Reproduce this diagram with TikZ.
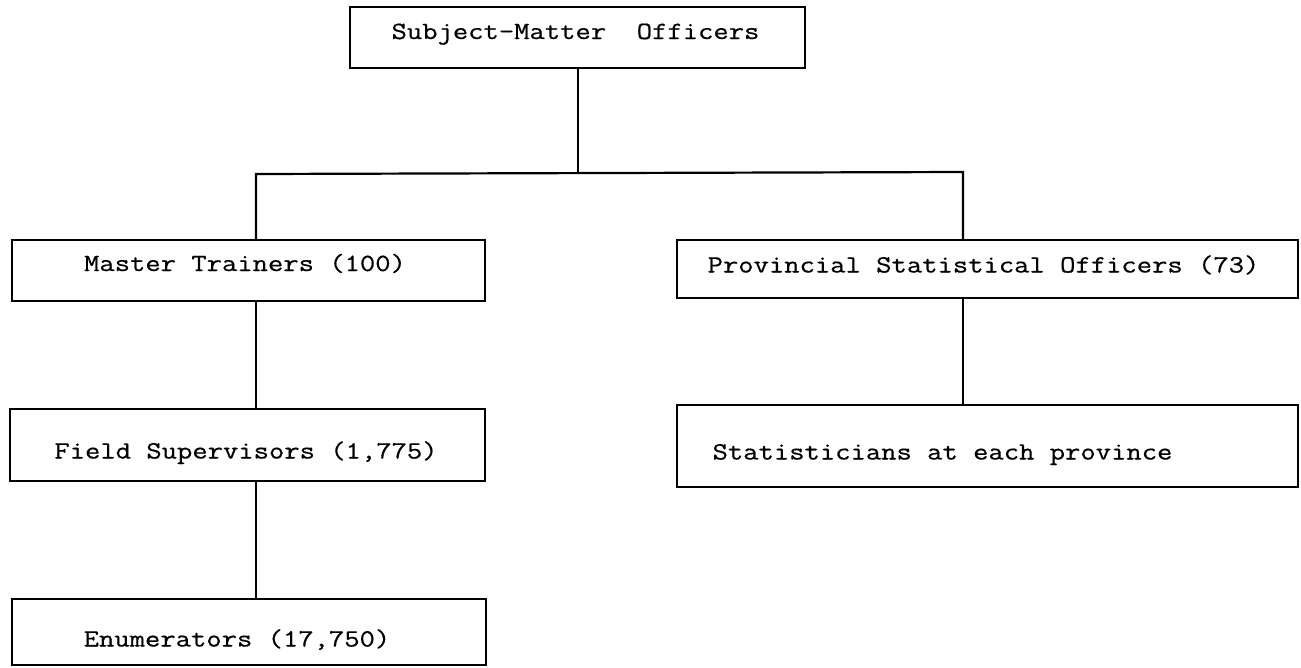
\documentclass[tikz,border=0pt]{standalone}
\usepackage{fontspec}
\setmonofont[FakeStretch=1.2, FakeBold=0.6]{Latin Modern Mono}
% place text inside a box: #1 = twice the horizontal shift, #2 = vertical shift
\newcommand{\inbox}[3]{\raisebox{#2}{\makebox[0pt]{\hspace*{#1}#3}}}
\begin{document}
\begin{tikzpicture}[x=1pt,y=-1pt,
  line width=2.2pt,
  orgbox/.style={draw, rectangle, anchor=north west, inner sep=0pt, outer sep=0pt,
    text height=15pt, text depth=0pt,
    font=\ttfamily\fontsize{24.8}{30}\selectfont},
  link/.style={draw, line width=2.2pt}]
\useasboundingbox (0,0) rectangle (1301,667);

% boxes
\node[orgbox, minimum width=455pt, minimum height=61pt] (top) at (350,7)
  {\inbox{-4pt}{6pt}{Subject-Matter\ \ Officers}};
\node[orgbox, minimum width=473pt, minimum height=61pt] (mt) at (12,240)
  {\inbox{-7pt}{7pt}{Master Trainers (100)}};
\node[orgbox, minimum width=621pt, minimum height=58pt] (prov) at (677,240)
  {\inbox{-8pt}{4pt}{Provincial Statistical Officers (73)}};
\node[orgbox, minimum width=475pt, minimum height=72pt] (fs) at (10,409)
  {\inbox{-3pt}{-6pt}{Field Supervisors (1,775)}};
\node[orgbox, minimum width=621pt, minimum height=82pt] (stat) at (677,405)
  {\inbox{-90pt}{-6pt}{Statisticians at each province}};
\node[orgbox, minimum width=474pt, minimum height=66pt] (en) at (12,599)
  {\inbox{-24pt}{-7pt}{Enumerators (17,750)}};

% branching points
\coordinate (busM) at (578,174);
\coordinate (busL) at (256,174);
\coordinate (busR) at (963,172);

% connectors
\draw[link] (top.south -| busM) -- (busM);
\draw[link] (mt.north -| busL) -- (busL) -- (busR) -- (prov.north -| busR);
\draw[link] (prov.south -| busR) -- (stat.north -| busR);
\draw[link] (mt.south -| busL) -- (fs.north -| busL);
\draw[link] (fs.south -| busL) -- (en.north -| busL);
\end{tikzpicture}
\end{document}
